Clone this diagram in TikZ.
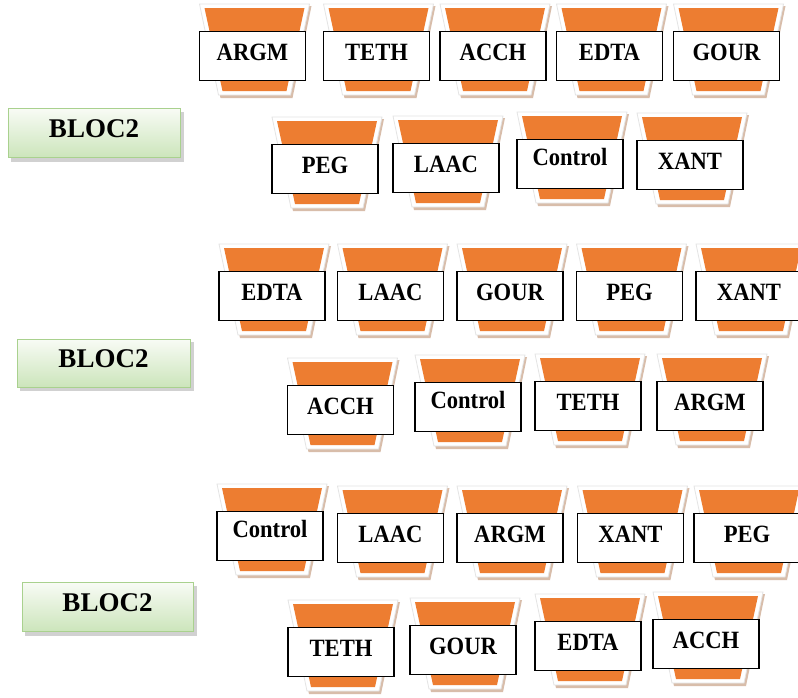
\documentclass[tikz,border=0pt]{standalone}
\usepackage{fontspec}
\setmainfont{Liberation Serif}
\usepackage{graphicx}
\definecolor{orng}{HTML}{ED7D31}
\definecolor{shad}{HTML}{D8BDAA}
\definecolor{glow}{HTML}{E4E4E4}
\definecolor{gtop}{HTML}{F8FBF5}
\definecolor{gbot}{HTML}{CCE5BB}
\definecolor{gedge}{HTML}{A9D18E}
\newcommand\capfont{\fontsize{22.6}{22.6}\selectfont\bfseries}
\newcommand\blocfont{\fontsize{27}{27}\selectfont\bfseries}
\newcommand\tubunit[2]{%
  \begin{scope}[shift={(#1,#2)}]
    \fill[shad] (-51,-50) -- (59,-50) -- (40,42) -- (-32,42) -- cycle;
    \filldraw[fill=white,draw=glow,line width=0.8pt] (-53,-52) -- (57,-52) -- (38,39) -- (-34,39) -- cycle;
    \fill[orng] (-48,-48) -- (52,-48) -- (34,35) -- (-30,35) -- cycle;
  \end{scope}}
\newcommand\U[5]{\tubunit{#2}{#3}\node[#5] (#1) at (#2,#3) {\scalebox{1}[1.1]{#4}};}
\tikzset{
  unitbox/.style={draw=black, line width=1.2pt, fill=white, minimum width=106pt,
    minimum height=49pt, inner sep=0pt, text height=12pt, text depth=4pt, font=\capfont},
  ctrlbox/.style={unitbox, text height=8pt, text depth=6pt},
  blocbox/.style={draw=gedge, line width=1pt, top color=gtop, bottom color=gbot,
    minimum width=172pt, minimum height=49pt, inner sep=0pt, text height=13pt,
    text depth=4pt, font=\blocfont},
  blocshadow/.style={fill=black!18}
}
\begin{document}
\begin{tikzpicture}[x=1pt,y=-1pt]
\useasboundingbox (0,0) rectangle (798,697);
\clip (0,0) rectangle (798,697);
\fill[white] (0,0) rectangle (798,697);
% row 1
\U{aA}{252.5}{56}{ARGM}{unitbox}
\U{aB}{376.5}{56}{TETH}{unitbox}
\U{aC}{493}{56}{ACCH}{unitbox}
\U{aD}{609.5}{56}{EDTA}{unitbox}
\U{aE}{726.5}{56}{GOUR}{unitbox}
% row 2
\U{bA}{325}{169}{PEG}{unitbox}
\U{bB}{446}{168}{LAAC}{unitbox}
\U{bC}{570}{164}{Control}{ctrlbox}
\U{bD}{690}{165}{XANT}{unitbox}
% row 3
\U{cA}{272}{296}{EDTA}{unitbox}
\U{cB}{390.5}{296}{LAAC}{unitbox}
\U{cC}{510}{296}{GOUR}{unitbox}
\U{cD}{629.5}{296}{PEG}{unitbox}
\U{cE}{749}{296}{XANT}{unitbox}
% row 4
\U{dA}{340.5}{410}{ACCH}{unitbox}
\U{dB}{468}{407}{Control}{ctrlbox}
\U{dC}{588}{406}{TETH}{unitbox}
\U{dD}{710}{406}{ARGM}{unitbox}
% row 5
\U{eA}{270}{536}{Control}{ctrlbox}
\U{eB}{390.5}{538}{LAAC}{unitbox}
\U{eC}{510}{538}{ARGM}{unitbox}
\U{eD}{630.5}{538}{XANT}{unitbox}
\U{eE}{747}{538}{PEG}{unitbox}
% row 6
\U{fA}{341}{652}{TETH}{unitbox}
\U{fB}{463}{650}{GOUR}{unitbox}
\U{fC}{588}{646}{EDTA}{unitbox}
\U{fD}{706}{644}{ACCH}{unitbox}
% bloc boxes
\fill[blocshadow] (11,112) rectangle (184,162);
\node[blocbox] (g1) at (94,133) {BLOC2};
\fill[blocshadow] (20,342) rectangle (194,391);
\node[blocbox, minimum width=173pt, minimum height=48pt] (g2) at (103.5,363) {BLOC2};
\fill[blocshadow] (25,586) rectangle (197,636);
\node[blocbox, minimum width=171pt] (g3) at (107.5,607) {BLOC2};
\end{tikzpicture}
\end{document}
